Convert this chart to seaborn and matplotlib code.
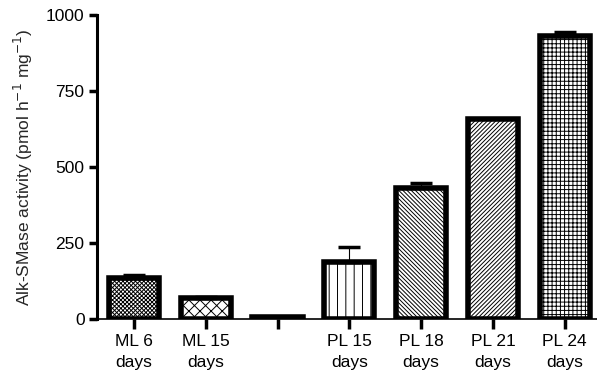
import matplotlib
matplotlib.use("Agg")
import matplotlib.pyplot as plt
import seaborn as sns
import pandas as pd
import numpy as np

categories = ["ML 6\ndays", "ML 15\ndays", " ", "PL 15\ndays", "PL 18\ndays", "PL 21\ndays", "PL 24\ndays"]
values = [135, 68, 5, 188, 432, 658, 930]
errors = [10, 4, 0, 48, 14, 0, 13]
hatches = ["xxxxxxxx", "xxx", "", "||", "\\\\\\\\\\\\\\\\", "////////", "++++"]
yticks = [0, 250, 500, 750, 1000]

sns.set_theme(style="ticks")
plt.rcParams["font.family"] = ["Liberation Sans", "DejaVu Sans"]
plt.rcParams["hatch.linewidth"] = 0.7
plt.rcParams["hatch.color"] = "black"

df = pd.DataFrame({"group": categories, "value": values})

fig = plt.figure(figsize=(5.97, 3.82), dpi=100)
ax = fig.add_axes([0.1625, 0.165, 0.8375, 0.796])

sns.barplot(data=df, x="group", y="value", ax=ax, color="white",
            width=0.7, edgecolor="black", linewidth=4, errorbar=None,
            order=categories)

for patch, h in zip(ax.patches, hatches):
    patch.set_hatch(h)
    patch.set_facecolor("white")
    patch.set_edgecolor("black")

x = np.arange(len(categories))
for xi, v, e in zip(x, values, errors):
    if e > 0:
        ax.errorbar(xi, v, yerr=[[0], [e]], fmt="none", ecolor="black",
                    elinewidth=0.8, capsize=8, capthick=2.5, zorder=1)

ax.set_ylim(0, 1000)
ax.set_xlim(-0.515, 6.45)
ax.set_yticks(yticks)
ax.set_yticklabels([str(t) for t in yticks], fontsize=12.5)
ax.set_xticks(x)
ax.set_xticklabels(categories, fontsize=12.5, linespacing=1.45)
ax.set_xlabel("")
ax.set_ylabel("Alk-SMase activity (pmol h$^{-1}$ mg$^{-1}$)", fontsize=12.5, labelpad=8)

for s in ["top", "right"]:
    ax.spines[s].set_visible(False)
ax.spines["left"].set_linewidth(2.2)
ax.spines["bottom"].set_linewidth(1.2)
ax.spines["left"].set_color("black")
ax.spines["bottom"].set_color("black")
ax.tick_params(axis="y", length=6, width=2.5, color="black", labelcolor="black", pad=3)
ax.tick_params(axis="x", length=7, width=2.5, color="black", labelcolor="black", pad=4)

fig.savefig("out.png", dpi=100)
